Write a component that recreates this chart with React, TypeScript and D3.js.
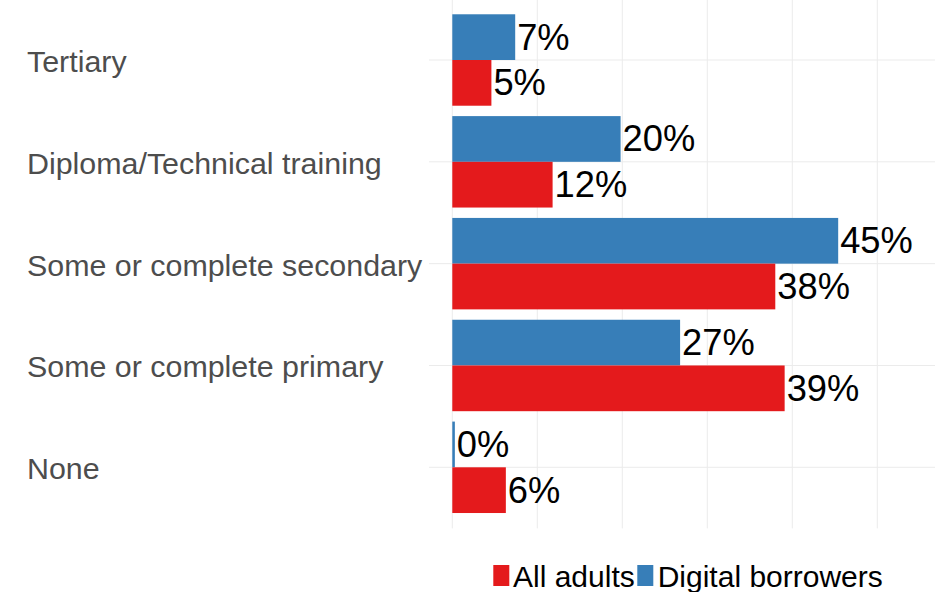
import React from "react";
import * as d3 from "d3";

const categories = [
  "Tertiary",
  "Diploma/Technical training",
  "Some or complete secondary",
  "Some or complete primary",
  "None",
];
const allAdults = [4.6, 11.8, 38.0, 39.1, 6.3];
const digitalBorrowers = [7.4, 19.8, 45.4, 26.8, 0.3];
const xTicks = [0, 10, 20, 30, 40, 50];
const seriesNames = ["All adults", "Digital borrowers"];
const colors = { adults: "#e41a1c", digital: "#377eb8" };

const W = 935;
const H = 592;

export default function App() {
  const x = d3.scaleLinear().domain([0, 56.79]).range([452.3, 935]);
  const y = d3.scalePoint<string>().domain(categories).range([60, 467.3]);
  const step = y.step();
  const bh = step * 0.449;
  const panelTop = 60 - step * 0.6;
  const panelBottom = 467.3 + step * 0.6;
  const fmt = (v: number) => `${Math.round(v)}%`;
  const font = "'Liberation Sans', Arial, sans-serif";

  return (
    <svg
      width={W}
      height={H}
      style={{ position: "absolute", left: 0, top: 0, background: "#fff" }}
      fontFamily={font}
    >
      {xTicks.map((t) => (
        <line
          key={"gx" + t}
          x1={x(t)}
          x2={x(t)}
          y1={panelTop}
          y2={panelBottom}
          stroke="#ebebeb"
          strokeWidth={1}
        />
      ))}
      {categories.map((c) => (
        <line
          key={"gy" + c}
          x1={429}
          x2={W}
          y1={y(c)}
          y2={y(c)}
          stroke="#ebebeb"
          strokeWidth={1}
        />
      ))}
      {categories.map((c, i) => {
        const cy = y(c) as number;
        return (
          <g key={"b" + c}>
            <rect
              x={x(0)}
              y={cy - bh}
              width={x(digitalBorrowers[i]) - x(0)}
              height={bh}
              fill={colors.digital}
            />
            <rect
              x={x(0)}
              y={cy}
              width={x(allAdults[i]) - x(0)}
              height={bh}
              fill={colors.adults}
            />
            <text
              x={x(digitalBorrowers[i]) + 2}
              y={cy - bh / 2}
              dominantBaseline="central"
              fontSize={36.3}
              fill="#000"
            >
              {fmt(digitalBorrowers[i])}
            </text>
            <text
              x={x(allAdults[i]) + 2}
              y={cy + bh / 2}
              dominantBaseline="central"
              fontSize={36.3}
              fill="#000"
            >
              {fmt(allAdults[i])}
            </text>
          </g>
        );
      })}
      {categories.map((c) => (
        <text
          key={"l" + c}
          x={27}
          y={(y(c) as number) + 1}
          dominantBaseline="central"
          fontSize={30.4}
          fill="#4d4d4d"
        >
          {c}
        </text>
      ))}
      <rect x={493.3} y={565} width={16} height={21} fill={colors.adults} />
      <text x={513} y={587.3} fontSize={30} fill="#000">
        {seriesNames[0]}
      </text>
      <rect x={637.3} y={565} width={16} height={21} fill={colors.digital} />
      <text x={657.7} y={587.3} fontSize={30} fill="#000">
        {seriesNames[1]}
      </text>
    </svg>
  );
}
